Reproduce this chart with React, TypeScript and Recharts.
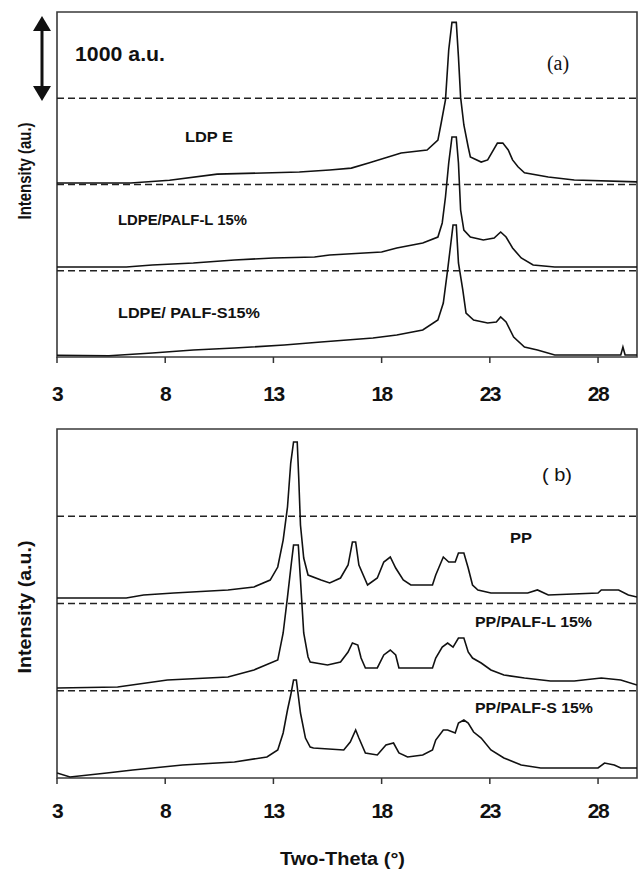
import React from "react";
import { LineChart, Line, XAxis, YAxis, ReferenceLine, ReferenceArea } from "recharts";

// shared axis setup
const X_TICKS = [3, 8, 13, 18, 23, 28];
const X_DOMAIN: [number, number] = [3, 29.8];
const Y_DOMAIN: [number, number] = [0, 4000];
const DASH_LEVELS = [1000, 2000, 3000];

// (a) LDPE family
const LDPE_X = [3, 6.4, 8.2, 10.4, 14.2, 15.6, 16.6, 17.4, 18.9, 20.1, 20.6, 20.75, 20.95, 21.1, 21.25, 21.45, 21.55, 21.65, 21.8, 22.0, 22.1, 22.6, 22.9, 23.35, 23.6, 23.85, 24.05, 24.3, 24.6, 25.7, 26.9, 29.8];
const LDPE_Y = [2017, 2017, 2050, 2120, 2145, 2168, 2190, 2250, 2365, 2400, 2515, 2710, 2980, 3560, 3880, 3880, 3480, 3010, 2690, 2435, 2320, 2260, 2285, 2480, 2480, 2400, 2285, 2205, 2135, 2087, 2052, 2030];

const LDPE_L_X = [3, 6.2, 7.4, 9.3, 11.2, 13.0, 14.9, 15.6, 18.0, 18.7, 19.9, 20.6, 20.8, 20.95, 21.1, 21.25, 21.45, 21.55, 21.65, 21.8, 22.1, 22.7, 23.2, 23.5, 23.75, 24.05, 24.45, 25.0, 26.0, 29.8];
const LDPE_L_Y = [1043, 1043, 1067, 1090, 1125, 1148, 1160, 1183, 1217, 1264, 1322, 1391, 1554, 1855, 2249, 2551, 2551, 2249, 1704, 1472, 1391, 1357, 1380, 1449, 1391, 1264, 1148, 1067, 1043, 1043];

const LDPE_S_X = [3, 5.4, 7.4, 9.3, 11.2, 13.5, 15.2, 17.6, 18.7, 19.9, 20.6, 20.85, 21.05, 21.2, 21.3, 21.45, 21.55, 21.75, 21.9, 22.25, 22.9, 23.3, 23.5, 23.75, 24.1, 24.6, 25.2, 26.0, 29.05, 29.15, 29.25, 29.8];
const LDPE_S_Y = [20, 15, 46, 81, 104, 139, 174, 220, 255, 313, 429, 626, 1009, 1322, 1530, 1530, 1090, 777, 510, 429, 394, 406, 464, 406, 232, 116, 81, 23, 23, 116, 23, 23];

// (b) PP family
const PP_X = [3, 6.2, 7.0, 8.4, 10.9, 12.1, 12.85, 13.2, 13.45, 13.65, 13.8, 13.93, 14.1, 14.17, 14.25, 14.4, 14.6, 15.2, 15.6, 16.1, 16.45, 16.65, 16.8, 16.95, 17.35, 17.8, 18.1, 18.4, 18.65, 19.0, 19.35, 20.35, 20.5, 20.85, 21.1, 21.4, 21.55, 21.8, 22.0, 22.2, 22.45, 23.05, 24.75, 25.2, 25.7, 28.0, 28.15, 28.95, 29.4, 29.8];
const PP_Y = [2063, 2063, 2097, 2120, 2155, 2189, 2269, 2418, 2727, 3106, 3610, 3851, 3851, 3438, 2899, 2521, 2326, 2269, 2235, 2292, 2441, 2705, 2705, 2441, 2212, 2292, 2475, 2533, 2407, 2269, 2212, 2212, 2326, 2533, 2475, 2475, 2579, 2579, 2407, 2212, 2155, 2120, 2120, 2155, 2097, 2120, 2155, 2155, 2097, 2074];

const PP_L_X = [3, 5.8, 8.1, 10.9, 12.1, 13.2, 13.45, 13.65, 13.83, 13.93, 14.15, 14.25, 14.4, 14.6, 14.7, 15.5, 16.1, 16.45, 16.65, 16.9, 17.05, 17.25, 17.8, 18.1, 18.4, 18.65, 18.8, 20.35, 20.5, 20.8, 21.05, 21.3, 21.55, 21.8, 22.0, 22.2, 22.6, 23.05, 23.65, 24.6, 25.8, 26.9, 28.15, 29.05, 29.8];
const PP_L_Y = [1031, 1043, 1123, 1157, 1238, 1352, 1662, 2074, 2464, 2670, 2670, 2269, 1662, 1387, 1329, 1295, 1329, 1444, 1547, 1524, 1375, 1261, 1261, 1410, 1467, 1410, 1261, 1261, 1375, 1501, 1547, 1501, 1604, 1604, 1444, 1375, 1318, 1238, 1180, 1146, 1112, 1112, 1146, 1123, 1066];

const PP_S_X = [3, 3.6, 5.3, 6.5, 8.8, 11.2, 12.7, 13.2, 13.45, 13.65, 13.8, 13.93, 14.06, 14.25, 14.48, 14.7, 14.85, 16.25, 16.55, 16.8, 16.95, 17.25, 17.8, 18.2, 18.55, 18.8, 19.2, 19.9, 20.35, 20.5, 20.85, 21.05, 21.4, 21.55, 21.8, 22.0, 22.25, 22.6, 23.05, 23.65, 24.45, 25.35, 28.0, 28.3, 28.75, 29.05, 29.8];
const PP_S_Y = [57, 11, 57, 92, 149, 183, 241, 321, 516, 779, 951, 1123, 1123, 745, 458, 355, 344, 321, 413, 550, 458, 287, 264, 378, 401, 287, 241, 264, 321, 435, 550, 550, 516, 630, 665, 630, 527, 458, 321, 229, 149, 115, 115, 172, 149, 115, 115];

const toPoints = (xs: number[], ys: number[]) => xs.map((x, i) => ({ x, y: ys[i] }));

const FONT = "'Liberation Sans', Arial, sans-serif";

function makeTick(offset: number) {
  return (props: any) => {
    const { x, y, payload } = props;
    return (
      <text x={x} y={y + offset} textAnchor="middle" fontSize={21} fontWeight="bold" fontFamily={FONT} letterSpacing={-1.5} fill="#111">
        {payload.value}
      </text>
    );
  };
}

interface PanelProps {
  height: number;
  top: number;
  bottom: number;
  tickOffset: number;
  series: { x: number[]; y: number[] }[];
}

function Panel({ height, top, bottom, tickOffset, series }: PanelProps) {
  return (
    <LineChart width={639} height={height} margin={{ top, right: 2, bottom, left: 57 }}>
      <XAxis
        dataKey="x"
        type="number"
        domain={X_DOMAIN}
        ticks={X_TICKS}
        allowDataOverflow
        height={50}
        axisLine={false}
        tickSize={6}
        tickLine={{ stroke: "#333", strokeWidth: 1.5 }}
        tick={makeTick(tickOffset)}
      />
      <YAxis type="number" domain={Y_DOMAIN} hide />
      <ReferenceArea x1={X_DOMAIN[0]} x2={X_DOMAIN[1]} y1={Y_DOMAIN[0]} y2={Y_DOMAIN[1]} fill="none" stroke="#3a3a3a" strokeWidth={1.6} />
      {DASH_LEVELS.map((v) => (
        <ReferenceLine key={v} y={v} stroke="#222" strokeWidth={1.5} strokeDasharray="7 4" />
      ))}
      {series.map((s, i) => (
        <Line
          key={i}
          data={toPoints(s.x, s.y)}
          dataKey="y"
          type="linear"
          stroke="#111"
          strokeWidth={1.6}
          dot={false}
          isAnimationActive={false}
        />
      ))}
    </LineChart>
  );
}

export default function App() {
  const txt = { fontFamily: FONT, fontWeight: "bold" as const, fill: "#111" };
  return (
    <div style={{ position: "absolute", left: 0, top: 0, width: 639, height: 871, background: "#fff" }}>
      <div style={{ position: "absolute", left: 0, top: 0 }}>
        <Panel
          height={420}
          top={12}
          bottom={13}
          tickOffset={36}
          series={[
            { x: LDPE_X, y: LDPE_Y },
            { x: LDPE_L_X, y: LDPE_L_Y },
            { x: LDPE_S_X, y: LDPE_S_Y },
          ]}
        />
      </div>
      <div style={{ position: "absolute", left: 0, top: 400 }}>
        <Panel
          height={471}
          top={29}
          bottom={43}
          tickOffset={32}
          series={[
            { x: PP_X, y: PP_Y },
            { x: PP_L_X, y: PP_L_Y },
            { x: PP_S_X, y: PP_S_Y },
          ]}
        />
      </div>
      <svg width={639} height={871} style={{ position: "absolute", left: 0, top: 0, pointerEvents: "none" }}>
        {/* scale arrow */}
        <line x1={42} y1={26} x2={42} y2={91} stroke="#111" strokeWidth={3} />
        <polygon points="42,16 33,31 51,31" fill="#111" />
        <polygon points="42,101 33,86 51,86" fill="#111" />
        <text x={75} y={61} fontSize={20} textLength={90} lengthAdjust="spacingAndGlyphs" {...txt}>1000 a.u.</text>
        <text x={558} y={70} fontSize={20} textAnchor="middle" fontFamily="'Liberation Serif', 'Times New Roman', serif" fill="#111">(a)</text>
        <text x={185} y={142} fontSize={15} textLength={48} lengthAdjust="spacingAndGlyphs" {...txt}>LDP E</text>
        <text x={118} y={225} fontSize={15} textLength={129} lengthAdjust="spacingAndGlyphs" {...txt}>LDPE/PALF-L 15%</text>
        <text x={118} y={318} fontSize={15} textLength={142} lengthAdjust="spacingAndGlyphs" {...txt}>LDPE/ PALF-S15%</text>
        <text x={542} y={481} fontSize={19} textLength={30} lengthAdjust="spacingAndGlyphs" fontFamily={FONT} fill="#111">( b)</text>
        <text x={510} y={543} fontSize={15} textLength={22} lengthAdjust="spacingAndGlyphs" {...txt}>PP</text>
        <text x={475} y={627} fontSize={15} textLength={117} lengthAdjust="spacingAndGlyphs" {...txt}>PP/PALF-L 15%</text>
        <text x={475} y={713} fontSize={15} textLength={118} lengthAdjust="spacingAndGlyphs" {...txt}>PP/PALF-S 15%</text>
        <text x={280} y={865} fontSize={18} textLength={125} lengthAdjust="spacingAndGlyphs" {...txt}>Two-Theta (°)</text>
        <text x={25} y={177} fontSize={18} textLength={97} lengthAdjust="spacingAndGlyphs" textAnchor="middle" transform="rotate(-90 25 171)" {...txt}>Intensity (au.)</text>
        <text x={25} y={613} fontSize={18} textLength={133} lengthAdjust="spacingAndGlyphs" textAnchor="middle" transform="rotate(-90 25 607)" {...txt}>Intensity (a.u.)</text>
      </svg>
    </div>
  );
}
